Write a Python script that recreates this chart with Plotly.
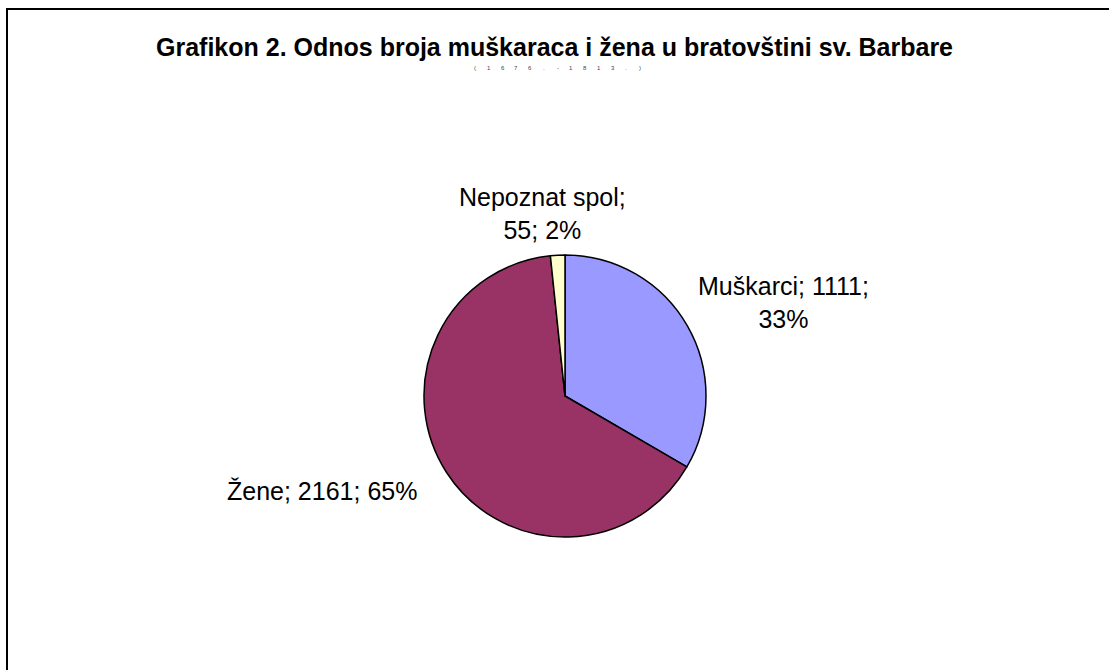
import plotly.graph_objects as go

# Brotherhood of St. Barbara members by sex
categories = ["Muškarci", "Žene", "Nepoznat spol"]
counts = [1111, 2161, 55]
colors = ["#9999FF", "#993366", "#FFFFCC"]
title_text = "Grafikon 2. Odnos broja muškaraca i žena u bratovštini sv. Barbare"
subtitle_text = "(1676.-1813.)"

W, H = 1109, 670
total = sum(counts)
pct = [round(100 * c / total) for c in counts]

# label texts built from the data (category; value; percent)
label_texts = [
    f"{categories[0]}; {counts[0]};<br>{pct[0]}%",
    f"{categories[1]}; {counts[1]}; {pct[1]}%",
    f"{categories[2]};<br>{counts[2]}; {pct[2]}%",
]
# label centres in pixels
label_pos = [(783, 303), (322, 491), (542, 213)]

cx, cy, r = 565, 396, 141

fig = go.Figure(
    go.Pie(
        labels=categories,
        values=counts,
        sort=False,
        direction="clockwise",
        rotation=0,
        marker=dict(colors=colors, line=dict(color="black", width=1.5)),
        textinfo="none",
        hoverinfo="label+value+percent",
        showlegend=False,
        domain=dict(x=[(cx - r) / W, (cx + r) / W], y=[(H - cy - r) / H, (H - cy + r) / H]),
    )
)

font_family = "Arial, Liberation Sans, sans-serif"
annotations = []
for txt, (px, py) in zip(label_texts, label_pos):
    annotations.append(dict(
        text=txt, x=px / W, y=1 - py / H, xref="paper", yref="paper",
        xanchor="center", yanchor="middle", showarrow=False, align="center",
        font=dict(family=font_family, size=25, color="black"),
    ))

annotations.append(dict(
    text=f"<b>{title_text}</b>", x=554 / W, y=1 - 47 / H, xref="paper", yref="paper",
    xanchor="center", yanchor="middle", showarrow=False,
    font=dict(family=font_family, size=25, color="black"),
))

# tiny, widely spaced subtitle
sub_x0, sub_step = 475, 13.75
for i, ch in enumerate(subtitle_text):
    annotations.append(dict(
        text=ch, x=(sub_x0 + i * sub_step) / W, y=1 - 68 / H, xref="paper", yref="paper",
        xanchor="center", yanchor="middle", showarrow=False,
        font=dict(family=font_family, size=6, color="#444444"),
    ))

fig.update_layout(
    width=W, height=H,
    margin=dict(l=0, r=0, t=0, b=0),
    paper_bgcolor="white", plot_bgcolor="white",
    annotations=annotations,
    shapes=[dict(
        type="rect", xref="paper", yref="paper",
        x0=7 / W, x1=1.02, y0=-0.02, y1=1 - 9 / H,
        line=dict(color="black", width=2), fillcolor="rgba(0,0,0,0)",
    )],
)

fig.write_html("out.html")
